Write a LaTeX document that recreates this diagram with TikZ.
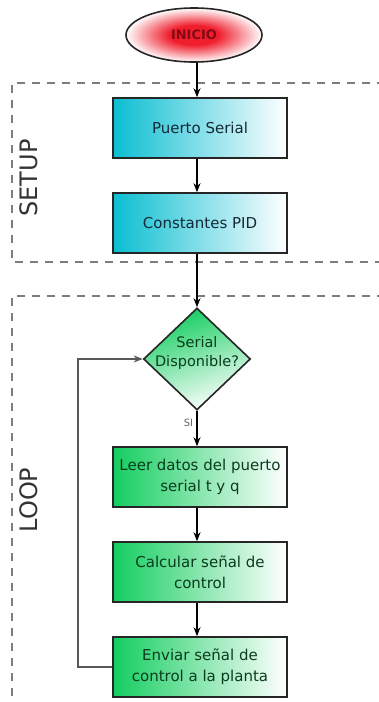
\documentclass[tikz,border=0pt]{standalone}
\usepackage{fontspec}
\setmainfont{DejaVu Sans}
\usetikzlibrary{shapes.geometric,arrows.meta}
\definecolor{cyanL}{RGB}{10,190,210}
\definecolor{greenL}{RGB}{20,205,95}
\definecolor{redC}{RGB}{240,30,45}
\definecolor{txtB}{RGB}{20,40,55}
\definecolor{txtG}{RGB}{10,60,30}
\definecolor{txtR}{RGB}{130,10,20}
\definecolor{dashC}{RGB}{125,125,125}
\pgfdeclareradialshading{redglow}{\pgfpoint{0bp}{0bp}}{color(0bp)=(redC); color(9bp)=(redC); color(25bp)=(white); color(50bp)=(white)}
\tikzset{
  x=1pt, y=-1pt,
  every node/.style={font=\fontsize{15}{21}\selectfont, align=center},
  cbox/.style={draw=black!85, line width=1.6pt, rectangle, minimum width=174pt, minimum height=60pt, inner sep=1pt, left color=cyanL, middle color=cyanL!55!white, right color=white, text=txtB},
  gbox/.style={draw=black!85, line width=1.6pt, rectangle, minimum width=174pt, minimum height=60pt, inner sep=1pt, left color=greenL, middle color=greenL!60!white, right color=white, text=txtG},
  dia/.style={draw=black!85, line width=1.6pt, diamond, minimum width=107pt, minimum height=102pt, inner sep=0pt, shading=axis, top color=greenL, bottom color=white, shading angle=20},
  startnode/.style={draw=black!85, line width=1.6pt, ellipse, minimum width=136pt, minimum height=54pt, shading=redglow, text=txtR, font=\fontsize{13}{14}\selectfont\bfseries},
  flow/.style={-{Stealth[length=9pt,width=7pt]}, line width=1.2pt, black},
  back/.style={-{Stealth[length=9pt,width=7pt]}, line width=1.2pt, black!65},
  group/.style={draw=dashC, line width=1.5pt, dash pattern=on 8pt off 7pt},
  grouplabel/.style={rotate=90, text=black!80, font=\fontsize{24}{28}\selectfont},
}
\begin{document}
\begin{tikzpicture}
\useasboundingbox (0,0) rectangle (379,702);
\fill[white] (0,0) rectangle (379,702);
% groups
\coordinate (s1) at (385,83);
\coordinate (s2) at (12,83);
\coordinate (s3) at (12,262);
\coordinate (s4) at (385,262);
\draw[group] (s1) -- (s2) -- (s3) -- (s4);
\coordinate (l1) at (385,296);
\coordinate (l2) at (12,296);
\coordinate (l3) at (12,708);
\draw[group] (l1) -- (l2) -- (l3);
\node[grouplabel] (setup) at (29,178) {SETUP};
\node[grouplabel] (loop) at (29,500) {LOOP};
% nodes
\node[startnode] (inicio) at (194,35) {INICIO};
\node[cbox] (puerto) at (200,128) {Puerto Serial};
\node[cbox] (const) at (200,223) {Constantes PID};
\node[dia] (disp) at (197,359) {};
\node (disptxt) at (197,353) [text=txtG, font=\fontsize{14.5}{19}\selectfont] {Serial\\Disponible?};
\node[gbox] (leer) at (200,477) {Leer datos del puerto\\serial t y q};
\node[gbox] (calc) at (200,572) {Calcular señal de\\control};
\node[gbox] (env) at (200,667) {Enviar señal de\\control a la planta};
% connectors
\draw[flow] (inicio.south -| disp.north) -- (puerto.north -| disp.north);
\draw[flow] (puerto.south -| disp.north) -- (const.north -| disp.north);
\draw[flow] (const.south -| disp.north) -- (disp.north);
\draw[flow] (disp.south) -- node[left, pos=0.35, text=black!60, font=\fontsize{10}{11}\selectfont] (si) {SI} (leer.north -| disp.south);
\draw[flow] (leer.south -| disp.south) -- (calc.north -| disp.south);
\draw[flow] (calc.south -| disp.south) -- (env.north -| disp.south);
\coordinate (fb) at (78,667);
\draw[back] (env.west) -- (fb) |- (disp.west);
\end{tikzpicture}
\end{document}
